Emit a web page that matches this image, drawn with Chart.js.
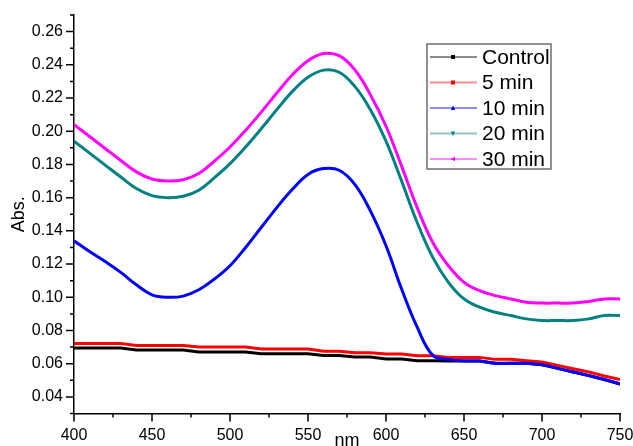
<!DOCTYPE html>
<html>
<head>
<meta charset="utf-8">
<script src="https://cdn.jsdelivr.net/npm/chart.js@4/dist/chart.umd.min.js"></script>
<style>
  html, body { margin: 0; padding: 0; background: #fff; }
  #c { display: block; }
</style>
</head>
<body>
<canvas id="c" width="633" height="446"></canvas>
<script>
// ---------- data ----------
const wavelengths = [400,410,420,430,440,450,460,470,480,490,500,510,520,530,540,550,560,570,580,590,600,610,620,630,640,650,660,670,680,690,700,710,720,730,740,750];

const control = [0.0694,0.0694,0.0694,0.0694,0.0682,0.0682,0.0682,0.0682,0.0670,0.0670,0.0670,0.0670,0.0660,0.0660,0.0660,0.0660,0.0650,0.0650,0.0640,0.0640,0.0628,0.0628,0.0618,0.0618,0.0616,0.0616,0.0616,0.0602,0.0602,0.0602,0.0594,0.0572,0.0550,0.0528,0.0505,0.0478];

const min5 = [0.0722,0.0722,0.0722,0.0722,0.0710,0.0710,0.0710,0.0710,0.0700,0.0700,0.0700,0.0700,0.0688,0.0688,0.0688,0.0688,0.0675,0.0675,0.0666,0.0666,0.0658,0.0658,0.0648,0.0648,0.0638,0.0638,0.0638,0.0626,0.0626,0.0618,0.0610,0.0590,0.0570,0.0550,0.0526,0.0505];

const min10 = [0.134,0.1275,0.1215,0.1150,0.1075,0.1015,0.1000,0.1007,0.1045,0.111,0.119,0.130,0.142,0.154,0.165,0.174,0.1775,0.1765,0.168,0.152,0.131,0.105,0.082,0.065,0.0626,0.0616,0.0616,0.0602,0.0602,0.0602,0.0594,0.0572,0.0550,0.0528,0.0505,0.0478];

const min20 = [0.194,0.1868,0.1796,0.1724,0.1655,0.1612,0.1600,0.1608,0.1645,0.172,0.1805,0.1905,0.2015,0.213,0.224,0.2325,0.2368,0.2355,0.227,0.213,0.194,0.170,0.145,0.124,0.109,0.099,0.094,0.091,0.089,0.087,0.086,0.086,0.086,0.087,0.089,0.089];

const min30 = [0.204,0.1968,0.1896,0.1824,0.1755,0.1712,0.1700,0.1708,0.1745,0.182,0.1905,0.2005,0.2115,0.223,0.234,0.2425,0.2468,0.2455,0.237,0.222,0.203,0.179,0.154,0.133,0.119,0.109,0.104,0.101,0.099,0.097,0.0965,0.0965,0.0965,0.0975,0.099,0.099];

const seriesNames = ['Control','5 min','10 min','20 min','30 min'];
const seriesColors = ['#000000','#ff0000','#0000ff','#008080','#ff00ff'];
const seriesMarkers = ['rect','rect','triangleUp','triangleDown','triangleLeft'];

const xMajorTicks = [400,450,500,550,600,650,700,750];
const xMinorTicks = [425,475,525,575,625,675,725];
const yMajorTicks = [0.04,0.06,0.08,0.10,0.12,0.14,0.16,0.18,0.20,0.22,0.24,0.26];
const yMinorTicks = [0.03,0.05,0.07,0.09,0.11,0.13,0.15,0.17,0.19,0.21,0.23,0.25,0.27];

const xTitle = 'nm';
const yTitle = 'Abs.';

// ---------- chart ----------
const FONT = '"Liberation Sans", Arial, Helvetica, sans-serif';
Chart.defaults.color = '#000';
Chart.defaults.font.family = FONT;

const allSeries = [control, min5, min10, min20, min30];
const curveTension = [0, 0, 0.4, 0.4, 0.4];

const datasets = allSeries.map((s, k) => ({
  label: seriesNames[k],
  data: wavelengths.map((w, i) => ({ x: w, y: s[i] })),
  borderColor: seriesColors[k],
  backgroundColor: seriesColors[k],
  borderWidth: 3,
  pointRadius: 0,
  fill: false,
  tension: curveTension[k],
  order: 5 - k
}));

const axisTicksPlugin = {
  id: 'axisTicks',
  afterDraw(chart) {
    const { ctx, chartArea: a, scales: { x, y } } = chart;
    ctx.save();
    ctx.strokeStyle = '#000';
    ctx.lineWidth = 1.5;
    ctx.beginPath();
    xMajorTicks.forEach(v => { const p = x.getPixelForValue(v); ctx.moveTo(p, a.bottom); ctx.lineTo(p, a.bottom + 8); });
    xMinorTicks.forEach(v => { const p = x.getPixelForValue(v); ctx.moveTo(p, a.bottom); ctx.lineTo(p, a.bottom + 4); });
    yMajorTicks.forEach(v => { const p = y.getPixelForValue(v); ctx.moveTo(a.left, p); ctx.lineTo(a.left - 8, p); });
    yMinorTicks.forEach(v => { const p = y.getPixelForValue(v); ctx.moveTo(a.left, p); ctx.lineTo(a.left - 4, p); });
    ctx.stroke();
    ctx.restore();
  }
};

function drawMarker(ctx, type, cx, cy, r) {
  ctx.beginPath();
  if (type === 'rect') {
    ctx.rect(cx - r, cy - r, 2 * r, 2 * r);
  } else if (type === 'triangleUp') {
    ctx.moveTo(cx, cy - r * 1.2); ctx.lineTo(cx + r * 1.1, cy + r); ctx.lineTo(cx - r * 1.1, cy + r);
  } else if (type === 'triangleDown') {
    ctx.moveTo(cx, cy + r * 1.2); ctx.lineTo(cx + r * 1.1, cy - r); ctx.lineTo(cx - r * 1.1, cy - r);
  } else if (type === 'triangleLeft') {
    ctx.moveTo(cx - r * 1.2, cy); ctx.lineTo(cx + r, cy - r * 1.1); ctx.lineTo(cx + r, cy + r * 1.1);
  }
  ctx.closePath();
  ctx.fill();
}

const boxLegendPlugin = {
  id: 'boxLegend',
  afterDraw(chart) {
    const ctx = chart.ctx;
    const box = { left: 427, top: 44, width: 124, height: 125 };
    ctx.save();
    ctx.strokeStyle = '#6e6e6e';
    ctx.lineWidth = 1.5;
    ctx.strokeRect(box.left, box.top, box.width, box.height);
    ctx.font = '21px ' + FONT;
    ctx.textBaseline = 'middle';
    ctx.textAlign = 'left';
    chart.data.datasets.forEach((ds, k) => {
      const cy = 57 + k * 25.5;
      ctx.globalAlpha = 0.45;
      ctx.strokeStyle = ds.borderColor;
      ctx.lineWidth = 2;
      ctx.beginPath();
      ctx.moveTo(430, cy); ctx.lineTo(477, cy);
      ctx.stroke();
      ctx.globalAlpha = 1;
      ctx.fillStyle = ds.borderColor;
      drawMarker(ctx, seriesMarkers[k], 453, cy, 2);
      ctx.fillStyle = '#000';
      ctx.fillText(ds.label, 482, cy + 1);
    });
    ctx.restore();
  }
};

new Chart(document.getElementById('c'), {
  type: 'line',
  data: { datasets },
  plugins: [axisTicksPlugin, boxLegendPlugin],
  options: {
    responsive: false,
    animation: false,
    devicePixelRatio: 1,
    layout: { padding: { top: 15, right: 13, bottom: 0, left: 0 } },
    plugins: {
      legend: { display: false },
      tooltip: { enabled: false }
    },
    scales: {
      x: {
        type: 'linear',
        min: 400,
        max: 750,
        afterBuildTicks(scale) { scale.ticks = xMajorTicks.map(v => ({ value: v })); },
        afterFit(scale) {
          scale.height = 32.5;
          scale.paddingLeft = 0; scale.paddingRight = 0;
        },
        ticks: {
          font: { size: 16 },
          color: '#000',
          padding: 12,
          maxRotation: 0,
          autoSkip: false,
          callback: v => String(v)
        },
        grid: { display: false, drawTicks: false },
        border: { display: true, color: '#000', width: 1.5 },
        title: {
          display: true,
          text: xTitle,
          font: { size: 18 },
          color: '#000',
          padding: { top: 0, bottom: -6 }
        }
      },
      y: {
        type: 'linear',
        min: 0.03,
        max: 0.27,
        afterBuildTicks(scale) { scale.ticks = yMajorTicks.map(v => ({ value: v })); },
        afterFit(scale) {
          scale.width = 74;
          scale.paddingTop = 0; scale.paddingBottom = 0;
        },
        ticks: {
          font: { size: 16 },
          color: '#000',
          padding: 11,
          autoSkip: false,
          callback: v => Number(v).toFixed(2)
        },
        grid: { display: false, drawTicks: false },
        border: { display: true, color: '#000', width: 1.5 },
        title: {
          display: true,
          text: yTitle,
          font: { size: 18 },
          color: '#000',
          padding: { top: 8, bottom: 0 }
        }
      }
    }
  }
});
</script>
</body>
</html>
